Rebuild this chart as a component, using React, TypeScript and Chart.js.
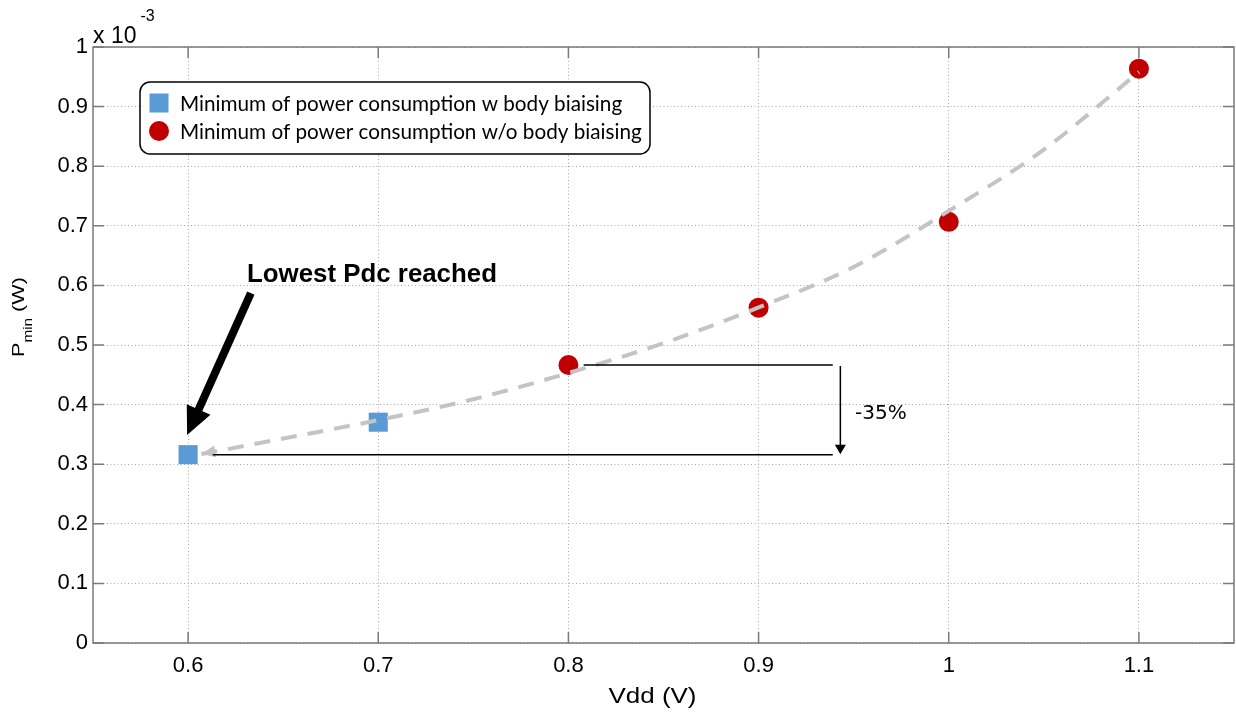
import React, { useEffect, useRef } from "react";
import { Chart, registerables } from "chart.js";

Chart.register(...registerables);

const W = 1236;
const H = 713;

// ---- tick values ----
const xTickValues = [0.6, 0.7, 0.8, 0.9, 1.0, 1.1];
const yTickValues = [0, 0.1, 0.2, 0.3, 0.4, 0.5, 0.6, 0.7, 0.8, 0.9, 1.0];

// ---- series (Pmin in units of 1e-3 W) ----
const withBiasVdd = [0.6, 0.7];
const withBiasPmin = [0.316, 0.3705];
const withoutBiasVdd = [0.8, 0.9, 1.0, 1.1];
const withoutBiasPmin = [0.4665, 0.5626, 0.7067, 0.9637];

// dashed trend curve
const fitVdd = [0.607, 0.65, 0.7, 0.75, 0.8, 0.85, 0.9, 0.95, 1.0, 1.05, 1.1];
const fitPmin = [0.317, 0.343, 0.374, 0.409, 0.453, 0.503, 0.563, 0.631, 0.725, 0.828, 0.958];

// ---- texts ----
const seriesLabels = [
  "Minimum of power consumption w body biaising",
  "Minimum of power consumption w/o body biaising",
];
const xAxisTitle = "Vdd (V)";
const yTitleMain = "P";
const yTitleSub = "min";
const yTitleUnit = " (W)";
const exponentBase = "x 10";
const exponentPower = "-3";
const arrowLabel = "Lowest Pdc reached";
const reductionLabel = "-35%";

// ---- annotation anchors (data units) ----
const arrowTail = { x: 0.633, y: 0.587 };
const arrowTip = { x: 0.5995, y: 0.349 };
const arrowLabelPos = { x: 0.631, y: 0.606 };
const bracketTopStart = 0.808;
const bracketBottomStart = 0.613;
const bracketEnd = 0.939;
const bracketArrowX = 0.943;
const reductionLabelPos = { x: 0.9507, y: 0.384 };

const BLUE = "#5b9bd5";
const RED = "#c00000";
const CURVE = "#c4c4c4";
const FRAME = "#7a7a7a";
const SANS = "'Liberation Sans', Arial, sans-serif";

function fmt(v: number) {
  return String(Number(v.toFixed(2)));
}

const overlayPlugin = {
  id: "overlay",
  afterDraw(chart: any) {
    const { ctx, chartArea: a } = chart;
    const xs = chart.scales.x;
    const ys = chart.scales.y;
    const px = (v: number) => xs.getPixelForValue(v);
    const py = (v: number) => ys.getPixelForValue(v);
    ctx.save();
    ctx.setLineDash([]);

    // inner ticks and frame
    ctx.strokeStyle = FRAME;
    ctx.lineWidth = 1.5;
    ctx.beginPath();
    for (const v of xTickValues) {
      const X = px(v);
      ctx.moveTo(X, a.bottom);
      ctx.lineTo(X, a.bottom - 11);
      ctx.moveTo(X, a.top);
      ctx.lineTo(X, a.top + 11);
    }
    for (const v of yTickValues) {
      const Y = py(v);
      ctx.moveTo(a.left, Y);
      ctx.lineTo(a.left + 11, Y);
      ctx.moveTo(a.right, Y);
      ctx.lineTo(a.right - 11, Y);
    }
    ctx.stroke();
    ctx.strokeRect(a.left, a.top, a.right - a.left, a.bottom - a.top);

    // exponent label
    ctx.fillStyle = "#000";
    ctx.textAlign = "left";
    ctx.textBaseline = "alphabetic";
    ctx.font = `23px ${SANS}`;
    ctx.fillText(exponentBase, a.left, a.top - 4);
    const bw = ctx.measureText(exponentBase).width;
    ctx.font = `16px ${SANS}`;
    ctx.fillText(exponentPower, a.left + bw + 4, a.top - 26);

    // x-axis title (stretched to reference width)
    ctx.save();
    ctx.font = `22px ${SANS}`;
    const xtw = ctx.measureText(xAxisTitle).width;
    const xcx = (a.left + a.right) / 2 - 11;
    ctx.translate(xcx, a.bottom + 60);
    ctx.scale(88 / xtw, 1);
    ctx.textAlign = "center";
    ctx.fillText(xAxisTitle, 0, 0);
    ctx.restore();

    // y-axis title with subscript
    ctx.save();
    ctx.font = `17px ${SANS}`;
    const wP = ctx.measureText(yTitleMain).width;
    const wU = ctx.measureText(yTitleUnit).width;
    ctx.font = `12px ${SANS}`;
    const wS = ctx.measureText(yTitleSub).width;
    const total = wP + wS + wU;
    const len = 80;
    const yc = (a.top + a.bottom) / 2 - 28;
    ctx.translate(24, yc + len / 2);
    ctx.rotate(-Math.PI / 2);
    ctx.scale(len / total, 1);
    ctx.textAlign = "left";
    ctx.font = `17px ${SANS}`;
    ctx.fillText(yTitleMain, 0, 0);
    ctx.font = `12px ${SANS}`;
    ctx.fillText(yTitleSub, wP, 8);
    ctx.font = `17px ${SANS}`;
    ctx.fillText(yTitleUnit, wP + wS, 0);
    ctx.restore();

    // gray arrowhead at start of the trend curve
    {
      const tx = px(fitVdd[0]);
      const ty = py(fitPmin[0]);
      const sx = px(fitVdd[1]);
      const sy = py(fitPmin[1]);
      const dx = tx - sx;
      const dy = ty - sy;
      const l = Math.hypot(dx, dy);
      const ux = dx / l;
      const uy = dy / l;
      const hl = 14;
      const hh = 6;
      const bx = tx - ux * hl;
      const by = ty - uy * hl;
      ctx.fillStyle = CURVE;
      ctx.beginPath();
      ctx.moveTo(tx, ty);
      ctx.lineTo(bx - uy * hh, by + ux * hh);
      ctx.lineTo(bx + uy * hh, by - ux * hh);
      ctx.closePath();
      ctx.fill();
    }

    // -35% bracket
    {
      const yTop = py(withoutBiasPmin[0]);
      const yBot = py(withBiasPmin[0]);
      ctx.strokeStyle = "#000";
      ctx.lineWidth = 1.5;
      ctx.beginPath();
      ctx.moveTo(px(bracketTopStart), yTop);
      ctx.lineTo(px(bracketEnd), yTop);
      ctx.moveTo(px(bracketBottomStart), yBot);
      ctx.lineTo(px(bracketEnd), yBot);
      const vx = px(bracketArrowX);
      ctx.moveTo(vx, yTop + 1);
      ctx.lineTo(vx, yBot - 9);
      ctx.stroke();
      ctx.fillStyle = "#000";
      ctx.beginPath();
      ctx.moveTo(vx, yBot - 0.5);
      ctx.lineTo(vx - 5.5, yBot - 10);
      ctx.lineTo(vx + 5.5, yBot - 10);
      ctx.closePath();
      ctx.fill();
      ctx.font = "20px 'DejaVu Sans', sans-serif";
      ctx.textAlign = "left";
      ctx.textBaseline = "middle";
      ctx.fillText(reductionLabel, px(reductionLabelPos.x), py(reductionLabelPos.y));
    }

    // black thick arrow + label
    {
      const tx = px(arrowTail.x);
      const ty = py(arrowTail.y);
      const hx = px(arrowTip.x);
      const hy = py(arrowTip.y);
      const dx = hx - tx;
      const dy = hy - ty;
      const l = Math.hypot(dx, dy);
      const ux = dx / l;
      const uy = dy / l;
      const hl = 28;
      const hh = 13;
      const bx = hx - ux * hl;
      const by = hy - uy * hl;
      ctx.strokeStyle = "#000";
      ctx.lineWidth = 8;
      ctx.lineCap = "butt";
      ctx.beginPath();
      ctx.moveTo(tx, ty);
      ctx.lineTo(bx + ux * 2, by + uy * 2);
      ctx.stroke();
      ctx.fillStyle = "#000";
      ctx.beginPath();
      ctx.moveTo(hx, hy);
      ctx.lineTo(bx - uy * hh, by + ux * hh);
      ctx.lineTo(bx + uy * hh, by - ux * hh);
      ctx.closePath();
      ctx.fill();

      ctx.font = `bold 25px ${SANS}`;
      const w = ctx.measureText(arrowLabel).width;
      const size = (25 * 250) / w;
      ctx.font = `bold ${size.toFixed(2)}px ${SANS}`;
      ctx.textAlign = "left";
      ctx.textBaseline = "alphabetic";
      ctx.fillText(arrowLabel, px(arrowLabelPos.x), py(arrowLabelPos.y));
    }

    // legend box
    {
      const lx = a.left + 47;
      const ly = a.top + 35;
      const lw = 510;
      const lh = 72;
      ctx.fillStyle = "#fff";
      ctx.strokeStyle = "#000";
      ctx.lineWidth = 1.5;
      ctx.beginPath();
      ctx.roundRect(lx, ly, lw, lh, 10);
      ctx.fill();
      ctx.stroke();

      const fam = "Lato, 'Open Sans', sans-serif";
      ctx.font = `20px ${fam}`;
      const longest = Math.max(...seriesLabels.map((s) => ctx.measureText(s).width));
      const fs = (20 * 462) / longest;
      ctx.font = `${fs.toFixed(2)}px ${fam}`;
      ctx.textAlign = "left";
      ctx.textBaseline = "middle";
      const rows = [ly + 21, ly + 49];
      const mx = lx + 19;
      ctx.fillStyle = BLUE;
      ctx.fillRect(mx - 9.5, rows[0] - 9.5, 19, 19);
      ctx.fillStyle = RED;
      ctx.beginPath();
      ctx.arc(mx, rows[1], 10, 0, Math.PI * 2);
      ctx.fill();
      ctx.fillStyle = "#000";
      ctx.fillText(seriesLabels[0], lx + 40, rows[0] + 1);
      ctx.fillText(seriesLabels[1], lx + 40, rows[1] + 1);
    }

    ctx.restore();
  },
};

export default function App() {
  const canvasRef = useRef<HTMLCanvasElement | null>(null);

  useEffect(() => {
    const canvas = canvasRef.current;
    if (!canvas) return;
    const chart = new Chart(canvas, {
      type: "scatter",
      data: {
        datasets: [
          {
            label: "fit",
            data: fitVdd.map((x, i) => ({ x, y: fitPmin[i] })),
            showLine: true,
            borderColor: CURVE,
            borderWidth: 4,
            borderDash: [16, 11],
            pointRadius: 0,
            pointHoverRadius: 0,
            cubicInterpolationMode: "monotone",
            fill: false,
          },
          {
            label: seriesLabels[0],
            data: withBiasVdd.map((x, i) => ({ x, y: withBiasPmin[i] })),
            pointStyle: "rect",
            pointRadius: 13.5,
            pointHoverRadius: 13.5,
            backgroundColor: BLUE,
            borderColor: BLUE,
            borderWidth: 0,
          },
          {
            label: seriesLabels[1],
            data: withoutBiasVdd.map((x, i) => ({ x, y: withoutBiasPmin[i] })),
            pointStyle: "circle",
            pointRadius: 10,
            pointHoverRadius: 10,
            backgroundColor: RED,
            borderColor: RED,
            borderWidth: 0,
          },
        ],
      },
      options: {
        responsive: false,
        animation: false,
        events: [],
        layout: { autoPadding: false, padding: { top: 47, right: 2, left: 0, bottom: 0 } },
        plugins: {
          legend: { display: false },
          tooltip: { enabled: false },
          title: { display: false },
        },
        scales: {
          x: {
            type: "linear",
            min: 0.55,
            max: 1.15,
            afterBuildTicks: (s: any) => {
              s.ticks = xTickValues.map((value) => ({ value }));
            },
            afterFit: (s: any) => {
              s.height = 70;
              s.paddingLeft = 0;
              s.paddingRight = 0;
            },
            ticks: {
              color: "#000",
              font: { family: SANS, size: 22 },
              padding: 10,
              maxRotation: 0,
              autoSkip: false,
              callback: (v: any) => fmt(Number(v)),
            },
            grid: { color: "#a8a8a8", lineWidth: 1, drawTicks: false },
            border: { display: false, dash: [1, 2.5] },
          },
          y: {
            type: "linear",
            min: 0,
            max: 1,
            afterBuildTicks: (s: any) => {
              s.ticks = yTickValues.map((value) => ({ value }));
            },
            afterFit: (s: any) => {
              s.width = 93;
              s.paddingTop = 0;
              s.paddingBottom = 0;
            },
            ticks: {
              color: "#000",
              font: { family: SANS, size: 22 },
              padding: 5,
              autoSkip: false,
              callback: (v: any) => fmt(Number(v)),
            },
            grid: { color: "#a8a8a8", lineWidth: 1, drawTicks: false },
            border: { display: false, dash: [1, 2.5] },
          },
        },
      },
      plugins: [overlayPlugin],
    } as any);
    return () => chart.destroy();
  }, []);

  return (
    <div style={{ position: "absolute", left: 0, top: 0, width: W, height: H, background: "#fff" }}>
      <canvas ref={canvasRef} width={W} height={H} style={{ display: "block" }} />
    </div>
  );
}
